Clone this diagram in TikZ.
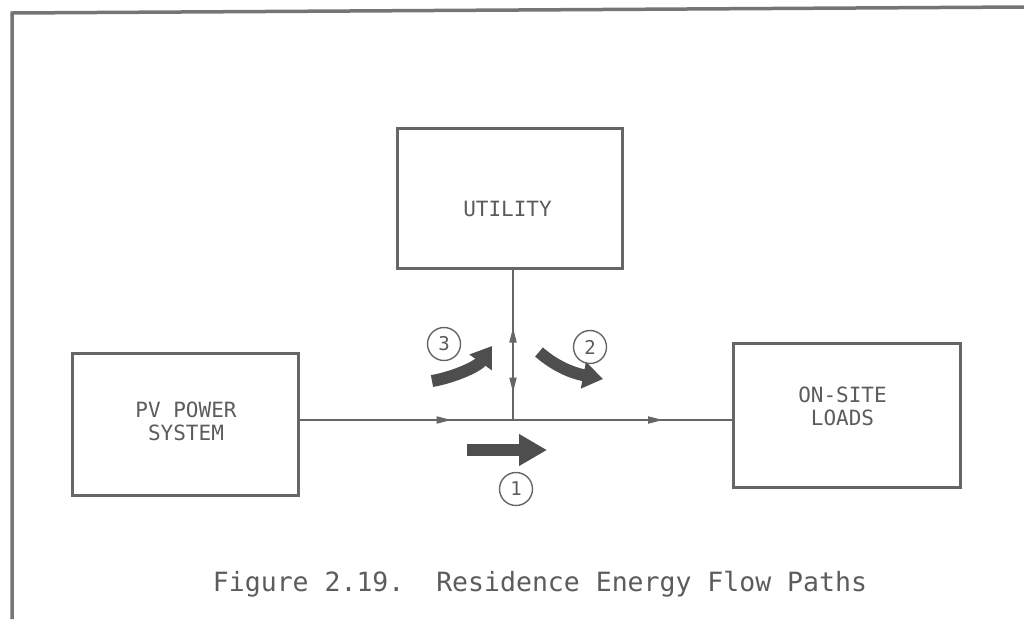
\documentclass[tikz,border=0pt]{standalone}
\usepackage{fontspec}
\setmonofont{DejaVu Sans Mono}
\usetikzlibrary{arrows.meta,decorations.markings}
\definecolor{ink}{HTML}{666666}
\definecolor{txtink}{HTML}{5C5C5C}
\definecolor{fatink}{HTML}{4E4E4E}
\tikzset{smalltip/.tip={Triangle[length=15pt,width=7pt]}}
\begin{document}
\begin{tikzpicture}[x=1pt,y=-1pt,
  frameline/.style={draw=ink!90, line width=3.5pt},
  box/.style={draw=ink, line width=3pt, inner sep=0pt, rectangle},
  lbl/.style={text=txtink, align=center, font=\fontsize{21}{23}\selectfont\ttfamily, inner sep=0pt},
  num/.style={circle, draw=ink, line width=1.4pt, minimum size=33pt, inner sep=0pt, text=txtink, font=\fontsize{19}{19}\selectfont\ttfamily},
  conn/.style={draw=ink, line width=2pt},
  fatA/.style={draw=fatink, line width=12.5pt, -{Triangle[length=28pt,width=30pt]}},
  fatB/.style={draw=fatink, line width=12pt, -{Triangle[length=20pt,width=26pt]}},
  capt/.style={text=txtink, font=\fontsize{26.5}{30}\selectfont\ttfamily, inner sep=0pt, anchor=base}
]
\useasboundingbox (0,0) rectangle (1024,619);
\fill[white] (0,0) rectangle (1024,619);

% frame (top and left only)
\draw[frameline] (12,619) -- (12,13) -- (1024,7);

% boxes
\node[box, minimum width=226pt, minimum height=142pt] (pv) at (185,424) {};
\node[box, minimum width=225pt, minimum height=140pt] (util) at (509.5,198) {};
\node[box, minimum width=227pt, minimum height=144pt] (loads) at (846.5,415) {};

% labels
\node[lbl] (pvt) at (186,421) {PV POWER\\SYSTEM};
\node[lbl] (utilt) at (507.5,209) {UTILITY};
\node[lbl] (loadst) at (842.5,406) {ON-SITE\\LOADS};

% junction
\coordinate (J) at (513,420);

% connectors
\draw[conn, postaction={decorate}, decoration={markings, mark=at position 152pt with {\arrow{smalltip}}}]
  (pv.east |- J) -- (J);
\draw[conn, postaction={decorate}, decoration={markings, mark=at position 150pt with {\arrow{smalltip}}}]
  (J) -- (loads.west |- J);
\draw[conn, postaction={decorate}, decoration={markings,
    mark=at position 58pt with {\arrowreversed{smalltip}},
    mark=at position 123pt with {\arrow{smalltip}}}]
  (util.south -| J) -- (J);

% numbered circles
\node[num] (n1) at (516,489) {1};
\node[num] (n2) at (590,347) {2};
\node[num] (n3) at (444,344) {3};

% fat flow arrows
\coordinate (a1s) at (467,450);
\coordinate (a1e) at (547,450);
\coordinate (a2s) at (539,352);
\coordinate (a2e) at (603,379);
\coordinate (a3s) at (432,381);
\coordinate (a3e) at (492,346);
\draw[fatA] (a1s) -- (a1e);
\draw[fatB] (a2s) .. controls (555,366) and (572,373) .. (a2e);
\draw[fatB] (a3s) .. controls (455,377) and (478,366) .. (a3e);

% caption
\node[capt] (cap) at (540,591) {Figure 2.19.\ \ Residence Energy Flow Paths};
\end{tikzpicture}
\end{document}
